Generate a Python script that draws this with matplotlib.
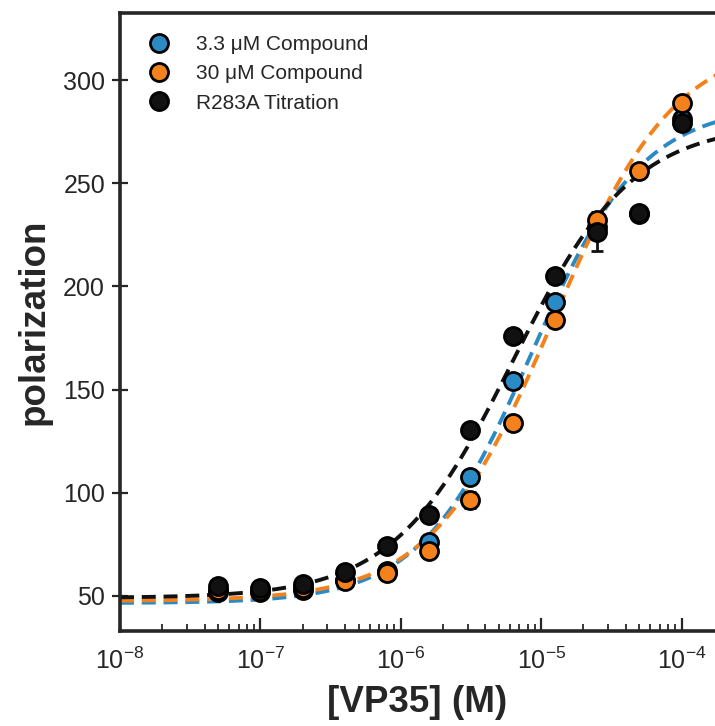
import numpy as np
import matplotlib
matplotlib.use("Agg")
import matplotlib.pyplot as plt
from matplotlib.lines import Line2D
from matplotlib.ticker import LogLocator, NullFormatter

plt.rcParams['font.family'] = ['Liberation Sans', 'DejaVu Sans']
plt.rcParams['mathtext.fontset'] = 'custom'
plt.rcParams['mathtext.rm'] = 'Liberation Sans'

# VP35 concentrations (M)
conc = [5e-8, 1e-7, 2e-7, 4e-7, 8e-7, 1.6e-6, 3.125e-6, 6.25e-6, 1.25e-5, 2.5e-5, 5e-5, 1e-4]

# measured polarization
blue_y = [52, 52, 53, 57.5, 62, 76, 107.5, 154, 192.5, 229, 235, 281]
orange_y = [53, 52.5, 54, 57, 61, 72, 96.5, 134, 183.5, 232, 256, 289]
black_y = [55, 54, 56, 61.5, 74, 89, 130.5, 176, 205, 226.5, 235.5, 279]

blue_err = [1, 1, 1, 1, 1, 2, 2, 3, 2, 3, 2, 2]
orange_err = [1, 1, 1, 1, 1, 2, 4, 2, 2, 3, 2, 2]
black_err = [1, 1, 1, 1, 1, 2, 2, 2, 3, 9.5, 2, 3]

# fitted binding curves: bottom, top, EC50, hill slope
blue_fit = [46.5, 288, 8.5e-6, 1.1]
orange_fit = [47.5, 320, 1.22e-5, 1.0]
black_fit = [49, 279, 6.3e-6, 1.02]

labels = ['3.3 \u03bcM Compound', '30 \u03bcM Compound', 'R283A Titration']
colors = ['#2a8ac6', '#f4821c', '#111111']


def hill(x, p):
    bottom, top, ec50, n = p
    return bottom + (top - bottom) / (1 + (ec50 / x) ** n)


fig = plt.figure(figsize=(7.15, 7.26), dpi=100)
ax = fig.add_axes([120 / 715, 95 / 726, 1 - 120 / 715, (631 - 13) / 726])

xs = np.logspace(-8, -3.7, 300)
series = [(blue_y, blue_err, blue_fit), (orange_y, orange_err, orange_fit), (black_y, black_err, black_fit)]
for (y, err, fit), c in zip(series, colors):
    ax.plot(xs, hill(xs, fit), color=c, lw=2.8, ls=(0, (3.6, 2.0)))
    ax.errorbar(conc, y, yerr=err, fmt='o', ms=13, mfc=c, mec='black', mew=2,
                ecolor='#111111', elinewidth=2, capsize=4.5, capthick=2)

ax.set_xscale('log')
ax.set_xlim(1e-8, 1.73e-4)
ax.set_ylim(33, 332.5)
ax.set_yticks([50, 100, 150, 200, 250, 300])
ax.xaxis.set_major_locator(LogLocator(base=10, numticks=10))
ax.xaxis.set_minor_locator(LogLocator(base=10, subs=np.arange(2, 10), numticks=20))
ax.xaxis.set_minor_formatter(NullFormatter())

ax.spines['right'].set_visible(False)
for s in ['left', 'top', 'bottom']:
    ax.spines[s].set_linewidth(2.6)
    ax.spines[s].set_color('#262626')

ax.tick_params(axis='x', which='major', direction='in', length=9.5, width=1.6,
               color='#262626', labelsize=18, labelcolor='#262626', pad=12)
ax.tick_params(axis='x', which='minor', direction='in', length=5, width=1.3, color='#262626')
ax.tick_params(axis='y', which='major', direction='inout', length=11.5, width=1.6,
               color='#262626', labelsize=18, labelcolor='#262626', pad=5)

ax.set_xlabel('[VP35] (M)', fontsize=26.5, fontweight='bold', color='#262626', labelpad=8)
ax.set_ylabel('polarization', fontsize=26.5, fontweight='bold', color='#262626', labelpad=8)

handles = [Line2D([], [], ls='none', marker='o', ms=13, mfc=c, mec='black', mew=2) for c in colors]
leg = ax.legend(handles, labels, loc='upper left', frameon=False, fontsize=15,
                handletextpad=1.0, labelspacing=0.5, borderaxespad=0.55,
                handlelength=1.6, borderpad=0.5)
for t in leg.get_texts():
    t.set_color('#262626')

fig.savefig('out.png', dpi=100)
